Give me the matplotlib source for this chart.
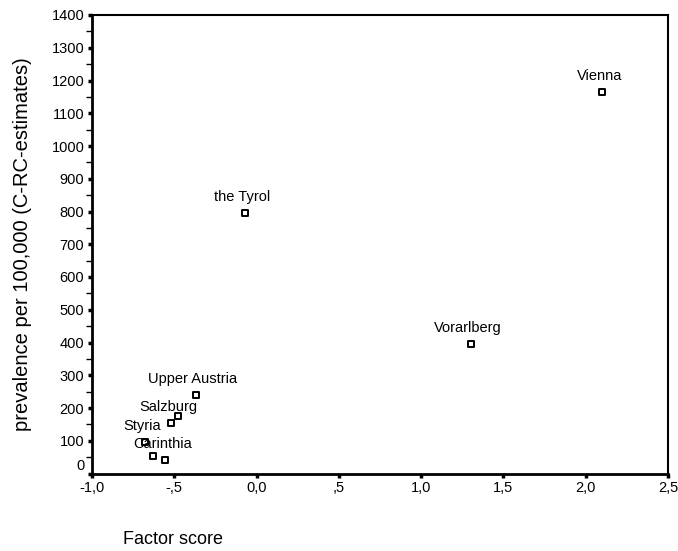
import matplotlib
matplotlib.use("Agg")
import matplotlib.pyplot as plt
from matplotlib.ticker import MultipleLocator

plt.rcParams['font.family'] = ['Liberation Sans', 'DejaVu Sans']

# Data
regions = ["Vienna", "the Tyrol", "Vorarlberg", "Upper Austria", "", "Salzburg",
           "Styria", "", "Carinthia"]
factor_score = [2.10, -0.07, 1.30, -0.37, -0.48, -0.52, -0.675, -0.63, -0.555]
prevalence = [1166, 796, 395, 240, 176, 153, 97, 53, 41]

x_ticks = [-1.0, -0.5, 0.0, 0.5, 1.0, 1.5, 2.0, 2.5]
x_tick_labels = ["-1,0", "-,5", "0,0", ",5", "1,0", "1,5", "2,0", "2,5"]
y_ticks = list(range(0, 1401, 100))

W, H = 678, 551
L, R, T, B = 92, 668, 15, 473.5

fig = plt.figure(figsize=(W/100, H/100), dpi=100)
ax = fig.add_axes([L/W, 1-B/H, (R-L)/W, (B-T)/H])

ax.scatter(factor_score, prevalence, marker='s', s=22, facecolors='white',
           edgecolors='black', linewidths=1.4, zorder=3, clip_on=False)
for name, x, y in zip(regions, factor_score, prevalence):
    if name:
        ax.annotate(name, (x, y), xytext=(-3, 16), textcoords='offset pixels',
                    ha='center', va='center', fontsize=10.5)

ax.set_xlim(-1.0, 2.5)
ax.set_ylim(0, 1400)
ax.set_xticks(x_ticks)
ax.set_xticklabels(x_tick_labels)
ax.set_yticks(y_ticks)
ax.set_yticklabels([str(v) for v in y_ticks])
ax.yaxis.set_minor_locator(MultipleLocator(50))
ax.tick_params(axis='both', which='major', direction='out', length=3, width=2.5,
               labelsize=10.5, pad=2.5)
ax.tick_params(axis='y', which='minor', direction='out', length=4, width=1)
# lift the "0" label a bit like the reference
for lbl in ax.get_yticklabels():
    if lbl.get_text() == "0":
        lbl.set_va('bottom')

for side in ['left', 'bottom']:
    ax.spines[side].set_linewidth(2)
for side in ['top', 'right']:
    ax.spines[side].set_linewidth(1.5)

fig.text(23/W, 1-((T+B)/2)/H, "prevalence per 100,000 (C-RC-estimates)", fontsize=14.5,
         rotation=90, ha='center', va='center')
fig.text(123/W, 1-540/H, "Factor score", fontsize=13, ha='left', va='center')

fig.savefig("out.png", dpi=100)
